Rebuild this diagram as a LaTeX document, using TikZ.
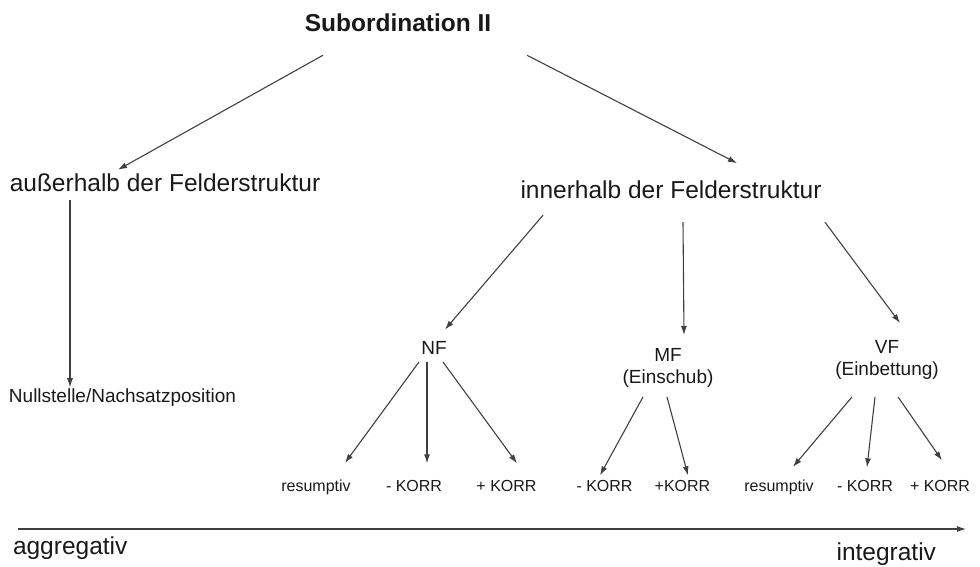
\documentclass[tikz,border=0pt]{standalone}
\usepackage{fontspec}
\setmainfont{Liberation Sans}
\usetikzlibrary{arrows.meta}
\begin{document}
\begin{tikzpicture}[x=1pt,y=-1pt,
  lbl/.style={inner sep=0pt,outer sep=0pt,text=black!90},
  titlefont/.style={lbl,font=\bfseries\fontsize{24.5}{28}\selectfont},
  big/.style={lbl,font=\fontsize{24.5}{28}\selectfont},
  mid/.style={lbl,font=\fontsize{19}{22.5}\selectfont,align=center},
  small/.style={lbl,font=\fontsize{16}{19}\selectfont},
  arr/.style={draw=black!75,line width=1.1pt,-{Latex[length=9pt,width=6pt]}}]
\useasboundingbox (0,0) rectangle (980,566);

% nodes
\node[titlefont,anchor=base] (title) at (398,31) {Subordination II};
\node[big,anchor=base] (aus) at (165,191.5) {außerhalb der Felderstruktur};
\node[big,anchor=base] (inn) at (671,198.5) {innerhalb der Felderstruktur};
\node[mid,anchor=base] (null) at (122.5,402) {Nullstelle/Nachsatzposition};
\node[mid,anchor=base] (nf) at (434,354) {NF};
\node[mid,anchor=north] (mf) at (668,348.4) {MF\\(Einschub)};
\node[mid,anchor=north] (vf) at (887,340.4) {VF\\(Einbettung)};

\node[small,anchor=base] (nfres) at (316,491) {resumptiv};
\node[small,anchor=base] (nfm) at (414,491) {- KORR};
\node[small,anchor=base] (nfp) at (506.5,491) {+ KORR};
\node[small,anchor=base] (mfm) at (604.5,491) {- KORR};
\node[small,anchor=base] (mfp) at (682.5,491) {+KORR};
\node[small,anchor=base] (vfres) at (779,491) {resumptiv};
\node[small,anchor=base] (vfm) at (865,491) {- KORR};
\node[small,anchor=base] (vfp) at (940,491) {+ KORR};

\node[big,anchor=base west] (agg) at (13,554) {aggregativ};
\node[big,anchor=base east] (int) at (936,560) {integrativ};
\coordinate (axL) at (18,529);
\coordinate (axR) at (966,529);

% connectors
\draw[arr] ([xshift=-75pt,yshift=-24pt]title.south) -- ([xshift=-47pt,yshift=4pt]aus.north);
\draw[arr] ([xshift=129pt,yshift=-24pt]title.south) -- ([xshift=66pt,yshift=17.6pt]inn.north);

\draw[arr] ([xshift=-95pt,yshift=-8.5pt]aus.south) -- ([xshift=-52.5pt,yshift=1pt]null.north);

\draw[arr] ([xshift=-128pt,yshift=-16.5pt]inn.south) -- ([xshift=11pt,yshift=11.4pt]nf.north);
\draw[arr] ([xshift=12pt,yshift=-23.5pt]inn.south) -- ([xshift=16pt,yshift=13.4pt]mf.north);
\draw[arr] ([xshift=154pt,yshift=-23.5pt]inn.south) -- ([xshift=13pt,yshift=17.4pt]vf.north);

\draw[arr] ([xshift=-15pt,yshift=-8pt]nf.south) -- ([xshift=29pt,yshift=16.5pt]nfres.north);
\draw[arr] ([xshift=-7pt,yshift=-8pt]nf.south) -- ([xshift=13pt,yshift=16.5pt]nfm.north);
\draw[arr] ([xshift=9pt,yshift=-8pt]nf.south) -- ([xshift=10.5pt,yshift=16.5pt]nfp.north);

\draw[arr] ([xshift=-25pt,yshift=-9pt]mf.south) -- ([xshift=-4.5pt,yshift=4.5pt]mfm.north);
\draw[arr] ([xshift=-1pt,yshift=-9pt]mf.south) -- ([xshift=5.5pt,yshift=4.5pt]mfp.north);

\draw[arr] ([xshift=-35pt,yshift=-17pt]vf.south) -- ([xshift=14pt,yshift=12.5pt]vfres.north);
\draw[arr] ([xshift=-12pt,yshift=-17pt]vf.south) -- ([xshift=2pt,yshift=12.5pt]vfm.north);
\draw[arr] ([xshift=11pt,yshift=-17pt]vf.south) -- ([xshift=2pt,yshift=19.5pt]vfp.north);

\draw[arr] (axL) -- (axR);
\end{tikzpicture}
\end{document}
